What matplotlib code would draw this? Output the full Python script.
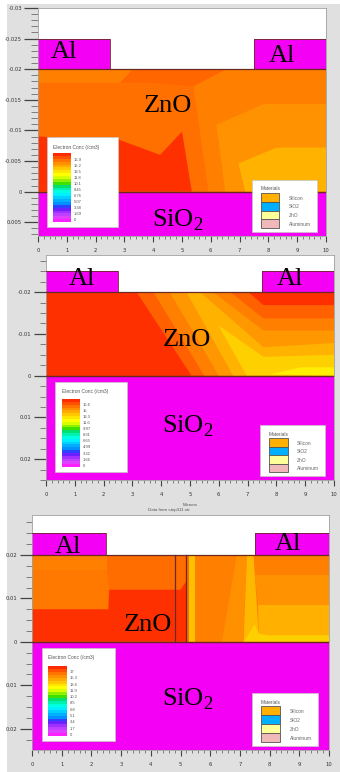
import matplotlib
matplotlib.use("Agg")
import matplotlib.pyplot as plt
from matplotlib.patches import Rectangle

plt.rcParams['mathtext.fontset'] = 'custom'
plt.rcParams['mathtext.rm'] = 'Liberation Serif'

W, H = 340, 772
MAGENTA = '#f400f4'
EDGE = '#6a2a20'

# materials legend
mat_names = ['Silicon', 'SiO2', 'ZnO', 'Aluminum']
mat_colors = ['#ffb000', '#00b0ff', '#ffff99', '#f0b8b8']

# colour bar steps, top to bottom
cbar_colors = ['#ff2a00', '#ff5000', '#ff7400', '#ff9000', '#ffaa00', '#ffc800', '#ffe600', '#ffff00',
               '#d8ff00', '#90f000', '#40e000', '#00e070', '#00f0b0', '#00ffe0', '#00f0ff', '#00d0ff',
               '#00b0ff', '#0090ff', '#3040ff', '#6a20ff', '#a030ff', '#c040ff', '#e040ff', '#ff20ff']
cbar_labels_1 = ['16.9', '15.2', '13.5', '11.8', '10.1', '8.45', '6.76', '5.07', '3.38', '1.69', '0']
cbar_labels_2 = ['16.6', '15', '13.3', '11.6', '9.97', '8.31', '6.65', '4.99', '3.32', '1.66', '0']
cbar_labels_3 = ['17', '15.3', '13.6', '11.9', '10.2', '8.5', '6.8', '5.1', '3.4', '1.7', '0']

# panel 1 contour regions, (colour, x points, y points), painted in order
regions_1 = [
    ('#ff7000', [0, 10, 10, 0], [-0.02, -0.02, 0, 0]),
    ('#ff8000', [0, 3.3, 2.85, 0], [-0.02, -0.02, -0.0178, -0.0178]),
    ('#ff6600', [3.3, 6.55, 5.4, 3.9, 2.85], [-0.02, -0.02, -0.0172, -0.0178, -0.0178]),
    ('#ff8000', [6.55, 10, 10, 5.92, 5.4], [-0.02, -0.02, 0, 0, -0.0172]),
    ('#ff9200', [6.2, 7.83, 10, 10, 6.5], [-0.0109, -0.0143, -0.0143, 0, 0]),
    ('#ffb300', [6.96, 8.29, 10, 10, 7.2], [-0.0046, -0.0072, -0.0072, 0, 0]),
    ('#ff3000', [0, 2.8, 4.24, 5.0, 5.34, 0], [-0.009, -0.0085, -0.006, -0.0098, 0, 0]),
]

# panel 2
regions_2 = [
    ('#ff3000', [0, 10, 10, 0], [-0.02, -0.02, 0, 0]),
    ('#ff6000', [3.15, 7.03, 7.55, 10, 10, 5.05], [-0.02, -0.02, -0.0169, -0.0169, 0, 0]),
    ('#ff8000', [3.73, 6.4, 7.55, 10, 10, 5.5], [-0.02, -0.02, -0.0137, -0.0137, 0, 0]),
    ('#ff9800', [4.3, 5.8, 7.55, 10, 10, 6.0], [-0.02, -0.02, -0.0108, -0.0108, 0, 0]),
    ('#ffb300', [4.88, 5.35, 7.55, 10, 10, 6.5], [-0.02, -0.02, -0.0068, -0.0078, 0, 0]),
    ('#ffd000', [5.98, 7.55, 10, 10, 6.97], [-0.0121, -0.0045, -0.005, 0, 0]),
    ('#ffee00', [7.78, 8.85, 10, 10], [-0.0003, -0.002, -0.002, 0]),
]

# panel 3
regions_3 = [
    ('#ff8000', [0, 10, 10, 0], [-0.02, -0.02, 0, 0]),
    ('#ff6c00', [0, 5.3, 5.3, 0], [-0.02, -0.02, 0, 0]),
    ('#ff8000', [0, 2.52, 2.52, 0], [-0.02, -0.02, -0.0165, -0.0165]),
    ('#ff7800', [0, 2.52, 2.6, 2.57, 0], [-0.0165, -0.0165, -0.012, -0.0075, -0.0075]),
    ('#ff3000', [0, 2.57, 2.6, 5.0, 5.2, 5.2, 0], [-0.0075, -0.0075, -0.012, -0.012, -0.014, 0, 0]),
    ('#ffc000', [5.3, 5.5, 5.5, 5.3], [-0.02, -0.02, 0, 0]),
    ('#ff9000', [6.9, 7.24, 7.1, 6.39], [-0.02, -0.02, 0, 0]),
    ('#ffb800', [7.24, 7.46, 7.65, 7.12], [-0.02, -0.02, 0, 0]),
    ('#ff8000', [7.46, 10, 10, 7.5], [-0.02, -0.02, -0.0155, -0.0155]),
    ('#ff9200', [7.5, 10, 10, 7.6], [-0.0155, -0.0155, -0.0084, -0.0084]),
    ('#ffb000', [7.6, 10, 10, 7.65], [-0.0084, -0.0084, 0, 0]),
    ('#ffd000', [7.12, 7.5, 7.65, 8.0, 10, 10], [0, -0.004, -0.0018, -0.0015, -0.0015, 0]),
]

yticks_1 = [-0.03, -0.025, -0.02, -0.015, -0.01, -0.005, 0, 0.005]
ylabels_1 = ['-0.03', '-0.025', '-0.02', '-0.015', '-0.01', '-0.005', '0', '0.005']
yticks_2 = [-0.02, -0.01, 0, 0.01, 0.02]
ylabels_2 = ['-0.02', '-0.01', '0', '0.01', '0.02']
ylabels_3 = ['0.02', '0.01', '0', '0.01', '0.02']
xticks = [0, 1, 2, 3, 4, 5, 6, 7, 8, 9, 10]

fig = plt.figure(figsize=(W / 100, H / 100), dpi=100, facecolor='white')

# gray window behind everything
fig.patches.append(Rectangle((7 / W, 0), (W - 7) / W, (H - 4) / H, transform=fig.transFigure,
                             facecolor='#e0e0e0', edgecolor='none', zorder=-5))


def panel(left, right, top, bottom, ymin, ymax, regions, al_left, al_right, yticks, ylabels, yminor, tick_len):
    ax = fig.add_axes([left / W, 1 - bottom / H, (right - left) / W, (bottom - top) / H])
    ax.set_xlim(0, 10)
    ax.set_ylim(ymax, ymin)
    ax.set_facecolor('white')
    for color, xs, ys in regions:
        ax.fill(xs, ys, color=color, linewidth=0, zorder=2)
    # SiO2 and the two contacts
    ax.fill([0, 10, 10, 0], [0, 0, ymax, ymax], color=MAGENTA, linewidth=0, zorder=2)
    ax.fill([0, al_left, al_left, 0], [-0.025, -0.025, -0.02, -0.02], color=MAGENTA, linewidth=0, zorder=2)
    ax.fill([al_right, 10, 10, al_right], [-0.025, -0.025, -0.02, -0.02], color=MAGENTA, linewidth=0, zorder=2)
    ax.plot([0, 10], [0, 0], color=EDGE, lw=1.0, zorder=3)
    ax.plot([0, 10], [-0.02, -0.02], color=EDGE, lw=0.9, zorder=3)
    ax.plot([0, al_left, al_left, 0], [-0.025, -0.025, -0.02, -0.02], color=EDGE, lw=0.6, zorder=3)
    ax.plot([10, al_right, al_right, 10], [-0.025, -0.025, -0.02, -0.02], color=EDGE, lw=0.6, zorder=3)
    ax.set_xticks(xticks)
    ax.set_xticks([i * 0.2 for i in range(51)], minor=True)
    ax.set_yticks(yticks)
    ax.set_yticklabels(ylabels)
    ax.set_yticks([m for m in yminor if ymin <= m <= ymax], minor=True)
    ax.tick_params(axis='y', which='major', length=tick_len, width=0.9, color='#444444', labelsize=3.8,
                   labelcolor='#333333', pad=1.5)
    ax.tick_params(axis='y', which='minor', length=tick_len / 2, width=0.5, color='#555555')
    ax.tick_params(axis='x', which='major', length=4, width=0.8, color='#444444', labelsize=3.8,
                   labelcolor='#333333', pad=5)
    ax.tick_params(axis='x', which='minor', length=2, width=0.5, color='#555555')
    for s in ax.spines.values():
        s.set_color('#a0a0a0')
        s.set_linewidth(0.6)
    return ax


panel(38, 326, 8, 235.7, -0.03, 0.0072, regions_1, 2.5, 7.5, yticks_1, ylabels_1,
      [-0.03 + i * 0.001 for i in range(38)], 10)
panel(46, 334, 255, 480, -0.0289, 0.025, regions_2, 2.5, 7.5, yticks_2, ylabels_2,
      [-0.03 + i * 0.0025 for i in range(23)], 9)
ax3 = panel(32, 329, 515, 750, -0.0292, 0.0249, regions_3, 2.5, 7.5, yticks_2, ylabels_3,
            [-0.03 + i * 0.0025 for i in range(23)], 9)
# the two dark column lines of the third panel
ax3.plot([4.8, 4.8], [-0.02, 0], color=EDGE, lw=0.9, zorder=3)
ax3.plot([5.2, 5.2], [-0.02, 0], color=EDGE, lw=0.9, zorder=3)

# overlay in pixels for the legends and the pasted labels
ov = fig.add_axes([0, 0, 1, 1])
ov.set_xlim(0, W)
ov.set_ylim(H, 0)
ov.axis('off')


def elec_legend(x0, x1, y0, y1, bar0, bar1, bar_y0, bar_y1, lab_y0, lab_y1, labels):
    ov.add_patch(Rectangle((x0, y0), x1 - x0, y1 - y0, fc='white', ec='#c8c8c8', lw=0.5))
    ov.text(bar0, y0 + 10, 'Electron Conc (/cm3)', fontsize=3.5, color='#555555', va='center', family='Liberation Sans')
    n = len(cbar_colors)
    h = (bar_y1 - bar_y0) / n
    for i, c in enumerate(cbar_colors):
        ov.add_patch(Rectangle((bar0, bar_y0 + i * h), bar1 - bar0, h + 0.2, fc=c, ec='none'))
    step = (lab_y1 - lab_y0) / (len(labels) - 1)
    for i, t in enumerate(labels):
        ov.text(bar1 + 3, lab_y0 + i * step, t, fontsize=3.0, color='#555555', va='center', family='Liberation Sans')


def mat_legend(x0, x1, y0, y1, sw0, sw1, sw_y0, sw_y1, lab_x):
    ov.add_patch(Rectangle((x0, y0), x1 - x0, y1 - y0, fc='white', ec='#c8c8c8', lw=0.5))
    ov.text(sw0, sw_y0 - 4, 'Materials', fontsize=3.5, color='#555555', va='center', family='Liberation Sans')
    h = (sw_y1 - sw_y0) / 4
    for i, (name, c) in enumerate(zip(mat_names, mat_colors)):
        ov.add_patch(Rectangle((sw0, sw_y0 + i * h), sw1 - sw0, h, fc=c, ec='#555555', lw=0.6))
        ov.text(lab_x, sw_y0 + (i + 0.6) * h, name, fontsize=3.5, color='#666666', va='center', family='Liberation Sans')


elec_legend(47, 118, 137, 227, 53, 71, 153, 222, 160, 220.3, cbar_labels_1)
elec_legend(55, 127, 382, 472, 62, 80, 399, 467, 405, 465.7, cbar_labels_2)
elec_legend(42, 115, 648, 741, 48, 67, 666, 736, 672, 735, cbar_labels_3)

mat_legend(252, 317, 180, 232, 261, 279, 193, 228, 289)
mat_legend(260, 325, 425, 476, 269, 288, 438, 472, 297)
mat_legend(252, 318, 693, 746, 261, 280, 706, 742, 290)


def big(x, y, s):
    ov.text(x, y, s, fontsize=19, family='Liberation Serif', color='black', ha='center', va='center')


big(64, 52, 'Al')
big(282, 56, 'Al')
big(168, 106, 'ZnO')
big(178, 220, r'SiO$_{\mathrm{2}}$')
big(82, 279, 'Al')
big(290, 279, 'Al')
big(187, 340, 'ZnO')
big(188, 426, r'SiO$_{\mathrm{2}}$')
big(68, 547, 'Al')
big(288, 544, 'Al')
big(148, 625, 'ZnO')
big(188, 699, r'SiO$_{\mathrm{2}}$')

ov.text(190, 505, 'Microns', fontsize=3.2, color='#555555', ha='center', va='center', family='Liberation Sans')
ov.text(169, 509.5, 'Data from step311.str', fontsize=3.2, color='#555555', ha='center', va='center', family='Liberation Sans')

fig.savefig('out.png', dpi=100)
